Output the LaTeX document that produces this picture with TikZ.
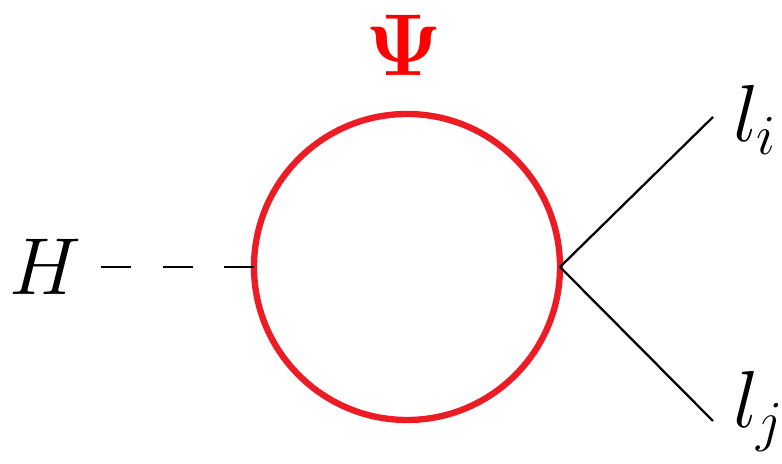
\RequirePackage{fix-cm}
\documentclass[tikz,border=0pt]{standalone}
\usepackage{amsmath}
\usepackage{tikz}
\usetikzlibrary{positioning, calc}

\definecolor{loopred}{RGB}{237,28,36}

\begin{document}
\begin{tikzpicture}[
    ext label/.style={font=\fontsize{46}{50}\selectfont},
    scalar/.style={dashed, line width=1.3pt, dash pattern=on 0.6cm off 0.63cm},
    fermion/.style={line width=1.3pt},
    loop/.style={draw=loopred, line width=3.6pt}
]
    \useasboundingbox (0,0) rectangle (15.64,9.28);

    % 顶点
    \coordinate (c) at (8.14,3.94);
    \coordinate (vl) at (5.08,3.94);
    \coordinate (vr) at (11.20,3.94);
    \coordinate (ei) at (14.26,6.94);
    \coordinate (ej) at (14.26,0.86);

    % 外线标签
    \node[ext label] (H) at (0.9,3.94) {$H$};
    \node[ext label, anchor=base west, inner sep=0pt] (li) at (14.66,6.44) {$l_i$};
    \node[ext label, anchor=base west, inner sep=0pt] (lj) at (14.66,0.72) {$l_j$};
    \node[font=\fontsize{50}{54}\selectfont, text=red] (Psi) at (8.08,8.38) {$\mathbf{\Psi}$};

    % 圈与线
    \draw[loop] (c) circle (3.06);
    \draw[scalar] (vl) -- (H);
    \draw[fermion] (vr) -- (ei);
    \draw[fermion] (vr) -- (ej);
\end{tikzpicture}
\end{document}
